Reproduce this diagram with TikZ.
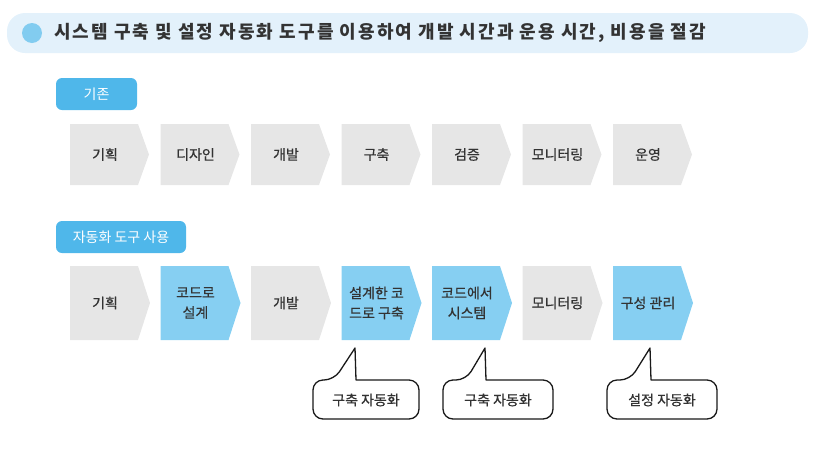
\documentclass[tikz,border=0pt]{standalone}
\usepackage{fontspec}
\setmainfont{Noto Sans CJK KR}
\newfontfamily\titlefont[LetterSpace=11.5]{Noto Sans CJK KR}
\newfontfamily\boxfont[FakeBold=0.6]{Noto Sans CJK KR}
\definecolor{bannerfill}{HTML}{E3F1FB}
\definecolor{dotblue}{HTML}{82CCF0}
\definecolor{labelblue}{HTML}{4FB7EA}
\definecolor{chevblue}{HTML}{86CFF2}
\definecolor{chevgray}{HTML}{E6E6E6}
\definecolor{textgray}{HTML}{333333}
\begin{document}
\begin{tikzpicture}[x=1pt,y=-1pt,
  font=\fontsize{14}{20}\selectfont,
  txt/.style={text=textgray, align=center, inner sep=0pt, font=\boxfont\fontsize{14}{20}\selectfont},
  lbltxt/.style={text=white, inner sep=0pt},
  labelbox/.style={fill=labelblue, rounded corners=6},
  callout/.style={draw=black!90, line width=1.3pt, fill=white, line join=round}]
\useasboundingbox (0,0) rectangle (818,464);
% banner
\fill[bannerfill, rounded corners=18] (7,13) rectangle (808,53);
\fill[dotblue] (32,33) circle (10);
\node[anchor=west, inner sep=0pt, text=textgray, font=\titlefont\fontsize{18}{20}\selectfont\bfseries] (title) at (54,33) {시스템 구축 및 설정 자동화 도구를 이용하여 개발 시간과 운용 시간, 비용을 절감};
% labels
\fill[labelbox] (56,78) rectangle (137,110);
\node[lbltxt] (lbl1) at (96.5,94) {기존};
\fill[labelbox] (56,221) rectangle (186,253);
\node[lbltxt] (lbl2) at (121,237) {자동화 도구 사용};
% row 1
\foreach \t [count=\i from 0] in {기획,디자인,개발,구축,검증,모니터링,운영} {
  \pgfmathsetmacro\xx{70+90.5*\i}
  \fill[chevgray] (\xx,124) -- (\xx+68,124) -- (\xx+79,154.5) -- (\xx+68,185) -- (\xx,185) -- cycle;
  \node[txt] (a\i) at (\xx+35,154.5) {\t};
}
% row 2
\foreach \t/\c [count=\i from 0] in {기획/chevgray,{코드로\\설계}/chevblue,개발/chevgray,{설계한 코\\드로 구축}/chevblue,{코드에서\\시스템}/chevblue,모니터링/chevgray,구성 관리/chevblue} {
  \pgfmathsetmacro\xx{70+90.5*\i}
  \fill[\c] (\xx,266) -- (\xx+68,266) -- (\xx+80,303) -- (\xx+68,340) -- (\xx,340) -- cycle;
  \node[txt] (b\i) at (\xx+35,303) {\t};
}
% callouts
\coordinate (p1) at (355,348);
\coordinate (p2) at (485,348);
\coordinate (p3) at (650,348);
\draw[callout] (p1) -- (356,380) [rounded corners=10] -- (419,380) -- (419,419) -- (313,419) -- (313,380) -- (334,380) [sharp corners] -- cycle;
\draw[callout] (p2) -- (486,380) [rounded corners=10] -- (553,380) -- (553,419) -- (443,419) -- (443,380) -- (466,380) [sharp corners] -- cycle;
\draw[callout] (p3) -- (651,380) [rounded corners=10] -- (717,380) -- (717,419) -- (607,419) -- (607,380) -- (630,380) [sharp corners] -- cycle;
\node[txt] (c1) at (366,400) {구축 자동화};
\node[txt] (c2) at (498,400) {구축 자동화};
\node[txt] (c3) at (662,400) {설정 자동화};
\end{tikzpicture}
\end{document}
